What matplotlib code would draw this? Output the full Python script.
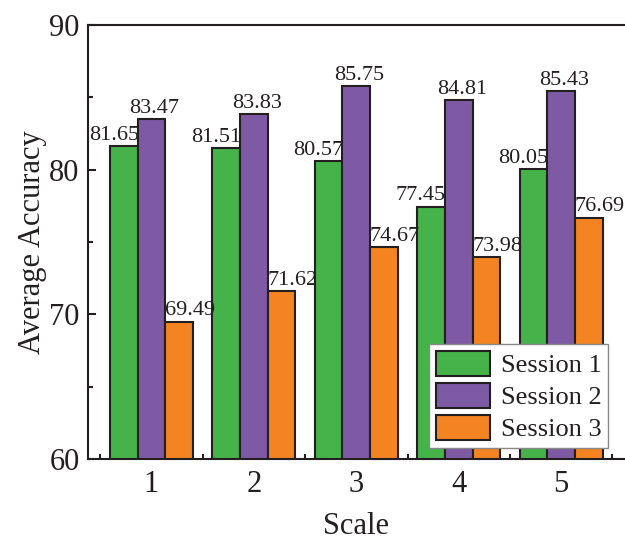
import numpy as np
import matplotlib
matplotlib.use('Agg')
import matplotlib.pyplot as plt
from matplotlib.ticker import MultipleLocator

# data
scales = [1, 2, 3, 4, 5]
session1 = [81.65, 81.51, 80.57, 77.45, 80.05]
session2 = [83.47, 83.83, 85.75, 84.81, 85.43]
session3 = [69.49, 71.62, 74.67, 73.98, 76.69]
labels = ['Session 1', 'Session 2', 'Session 3']

colors = ['#45B34A', '#7E5AA5', '#F38421']
edge = '#231F20'

plt.rcParams['font.family'] = ['Liberation Serif', 'DejaVu Serif']

fig = plt.figure(figsize=(6.25, 5.42), dpi=100)
# axes box in pixels: left 88, right ~625, top 25, bottom 459
ax = fig.add_axes([88 / 625, (542 - 459) / 542, (624.6 - 88) / 625, (459 - 25) / 542])

x = np.array(scales, dtype=float)
w = 0.27
offsets = [-w, 0, w]
label_dx = [-10, 3, 11]  # pixel shifts of the value labels
series = [session1, session2, session3]

for k, vals in enumerate(series):
    bars = ax.bar(x + offsets[k], vals, width=w, color=colors[k], edgecolor=edge,
                  linewidth=1.5, label=labels[k], zorder=2)
    for b, v in zip(bars, vals):
        ax.annotate('{:.2f}'.format(v), xy=(b.get_x() + b.get_width() / 2, v),
                    xytext=(label_dx[k] * 0.72, 4.5), textcoords='offset points',
                    ha='center', va='baseline', fontsize=16, color='#231F20')

ax.set_xlim(0.38, 5.62)
ax.set_ylim(60, 90)
ax.set_xticks(scales)
ax.set_xticks(np.arange(0.5, 6, 1), minor=True)
ax.yaxis.set_major_locator(MultipleLocator(10))
ax.yaxis.set_minor_locator(MultipleLocator(5))
ax.set_axisbelow(True)

ax.tick_params(axis='both', which='major', direction='in', length=6, width=1.5,
               labelsize=22, pad=6, color='#231F20', labelcolor='#231F20')
ax.tick_params(axis='both', which='minor', direction='in', length=3.5, width=1.5,
               color='#231F20')
ax.tick_params(axis='x', which='major', length=0, pad=8)

for s in ['left', 'bottom', 'top']:
    ax.spines[s].set_linewidth(1.5)
    ax.spines[s].set_color('#231F20')
ax.spines['right'].set_visible(False)

ax.set_xlabel('Scale', fontsize=22, labelpad=9, color='#231F20')
ax.set_ylabel('Average Accuracy', fontsize=22, labelpad=2, color='#231F20')

leg = ax.legend(loc='lower right', bbox_to_anchor=(608 / 625, (542 - 448) / 542),
                bbox_transform=fig.transFigure, fontsize=19, fancybox=False,
                frameon=True, framealpha=1, borderpad=0.25, handlelength=2.05,
                handleheight=1.05, handletextpad=0.4, labelspacing=0.22,
                borderaxespad=0)
leg.get_frame().set_edgecolor('#888888')
leg.get_frame().set_linewidth(1.0)
for t in leg.get_texts():
    t.set_color('#231F20')

fig.savefig('out.png', dpi=100)
